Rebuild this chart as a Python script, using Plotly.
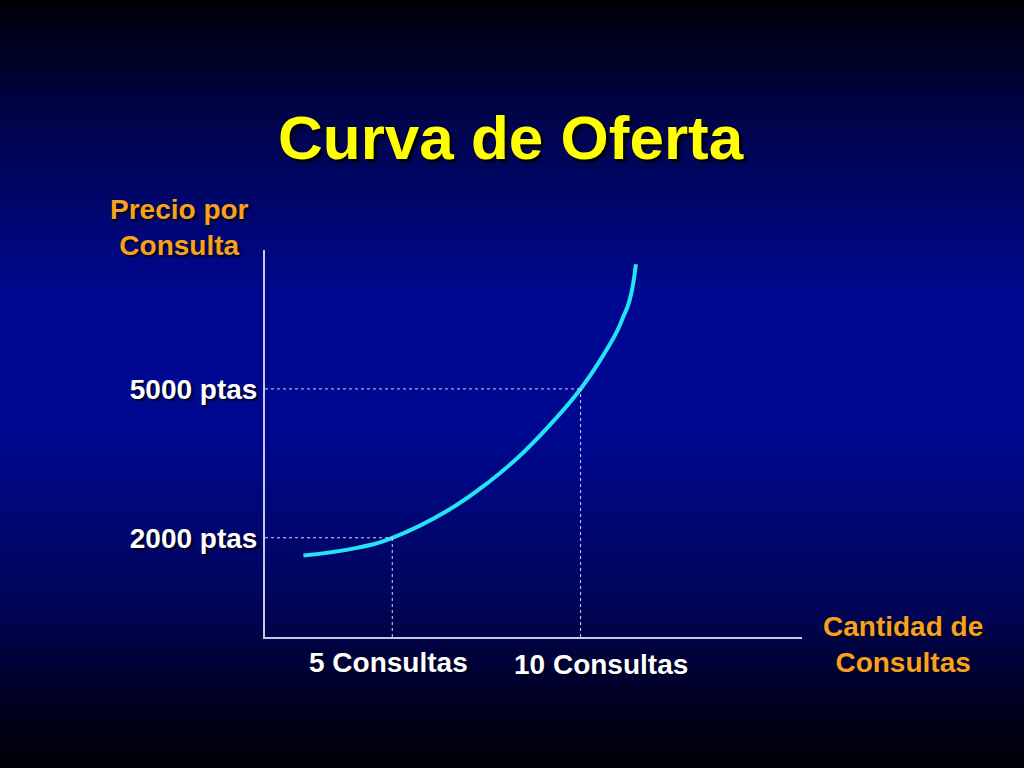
import plotly.graph_objects as go

# supply curve (quantity, price in ptas)
cantidad = [2.64, 4.06, 5.0, 6.44, 7.59, 8.48, 9.36, 10.0, 10.48, 10.96, 11.12, 11.30, 11.47]
precio = [1641, 1796, 2000, 2536, 3140, 3720, 4419, 5000, 5530, 6150, 6430, 6780, 7513]

# marked points on the curve
puntos_q = [5, 10]
puntos_p = [2000, 5000]
etiquetas_q = ["5 Consultas", "10 Consultas"]
etiquetas_p = ["2000 ptas", "5000 ptas"]

FONT = "Liberation Sans, Arial, sans-serif"
SHADOW = "2px 2px 2px #000020"
X_MIN, X_MAX = 1.62, 15.88
Y_MIN, Y_MAX = 0, 7800

fig = go.Figure()

fig.add_trace(go.Scatter(
    x=cantidad, y=precio, mode="lines",
    line=dict(color="#22e4f6", width=4, shape="spline", smoothing=1.3),
    hoverinfo="skip", showlegend=False,
))

# background: vertical gradient black -> blue -> black, built from thin stripes
stops = [(0, (0, 0, 5)), (120, (0, 4, 75)), (300, (0, 8, 145)), (430, (0, 8, 145)),
         (600, (0, 5, 90)), (700, (0, 0, 35)), (768, (0, 0, 5))]

def grad(py):
    for (a, ca), (b, cb) in zip(stops, stops[1:]):
        if a <= py <= b:
            t = (py - a) / (b - a)
            return tuple(round(ca[i] + (cb[i] - ca[i]) * t) for i in range(3))
    return stops[-1][1]

top, bottom, height = 250, 637.5, 387.5
shapes = []
step = 6
for py in range(0, 768, step):
    c = grad(py + step / 2)
    shapes.append(dict(
        type="rect", xref="paper", yref="paper", layer="below", line=dict(width=0),
        x0=-0.6, x1=1.5,
        y0=(bottom - py - step - 1) / height, y1=(bottom - py) / height,
        fillcolor="rgb(%d,%d,%d)" % c,
    ))

# dotted guides
for q, p in zip(puntos_q, puntos_p):
    shapes.append(dict(type="line", xref="x", yref="y", x0=X_MIN, x1=q, y0=p, y1=p,
                       line=dict(color="#d8d8f0", width=1, dash="dot")))
    shapes.append(dict(type="line", xref="x", yref="y", x0=q, x1=q, y0=Y_MIN, y1=p,
                       line=dict(color="#d8d8f0", width=1, dash="dot")))

def label(text, x, py, size, color, xref="paper", xshift=0, shadow=SHADOW):
    return dict(text=text, xref=xref, yref="paper", x=x, xshift=xshift,
                y=(bottom - py) / height, showarrow=False, align="center",
                xanchor="center", yanchor="middle",
                font=dict(family=FONT, size=size, color=color, weight="bold", shadow=shadow))

annotations = [
    label("Curva de Oferta", (511 - 265) / 537, 137, 62, "#ffff00", shadow="3px 3px 3px #000010"),
    label("Precio por<br>Consulta", (179 - 265) / 537, 227, 28, "#f7a11c"),
    label("Cantidad de<br>Consultas", (903 - 265) / 537, 645, 28, "#f7a11c"),
]
for q, lab, dx, py in zip(puntos_q, etiquetas_q, [-4, 20], [663, 665]):
    annotations.append(label(lab, q, py, 28, "white", xref="x", xshift=dx))

fig.update_layout(
    width=1024, height=768,
    margin=dict(l=265, r=222, t=250, b=130.5),
    paper_bgcolor="black", plot_bgcolor="rgba(0,0,0,0)",
    shapes=shapes, annotations=annotations,
    xaxis=dict(range=[X_MIN, X_MAX], showgrid=False, zeroline=False, showticklabels=False,
               showline=True, linecolor="#c8c8e6", linewidth=2, ticks=""),
    yaxis=dict(range=[Y_MIN, Y_MAX], showgrid=False, zeroline=False,
               tickvals=puntos_p, ticktext=etiquetas_p, ticks="",
               showline=True, linecolor="#c8c8e6", linewidth=2,
               tickfont=dict(family=FONT, size=28, color="white", weight="bold", shadow=SHADOW)),
)

fig.write_html("out.html", config={"displayModeBar": False},
               post_script="document.body.style.margin='0';")
